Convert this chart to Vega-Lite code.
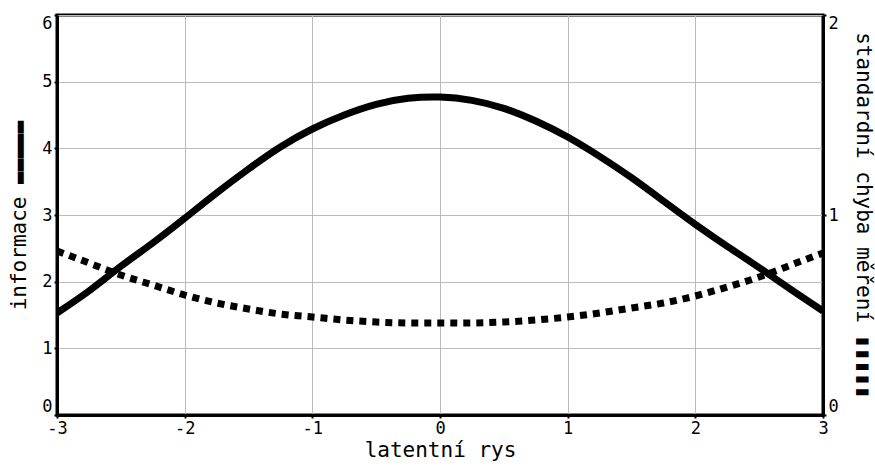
{
  "$schema": "https://vega.github.io/schema/vega-lite/v6.json",
  "autosize": "none",
  "padding": {"left": 57, "top": 15, "right": 52, "bottom": 54},
  "width": 766,
  "height": 400,
  "config": {
    "font": "DejaVu Sans Mono",
    "view": {"stroke": "black", "strokeWidth": 3},
    "axis": {
      "labelFont": "DejaVu Sans Mono",
      "titleFont": "DejaVu Sans Mono",
      "labelFontSize": 17,
      "titleFontSize": 21,
      "titleFontWeight": "normal",
      "labelColor": "black",
      "titleColor": "black",
      "domainColor": "black",
      "domainWidth": 3,
      "tickColor": "black",
      "tickWidth": 2,
      "tickSize": 3,
      "labelPadding": 2,
      "gridColor": "#bbbbbb",
      "gridWidth": 1,
      "labelExpr": "datum.value < 0 ? '-' + abs(datum.value) : '' + datum.value"
    }
  },
  "data": {
    "values": [
      {"theta": -3, "info": 1.53, "se": 0.82},
      {"theta": -2.75, "info": 1.86, "se": 0.76},
      {"theta": -2.5, "info": 2.23, "se": 0.7},
      {"theta": -2.25, "info": 2.58, "se": 0.65},
      {"theta": -2, "info": 2.95, "se": 0.6},
      {"theta": -1.75, "info": 3.33, "se": 0.56},
      {"theta": -1.5, "info": 3.69, "se": 0.53},
      {"theta": -1.25, "info": 4.02, "se": 0.505},
      {"theta": -1, "info": 4.29, "se": 0.49},
      {"theta": -0.75, "info": 4.5, "se": 0.475},
      {"theta": -0.5, "info": 4.66, "se": 0.465},
      {"theta": -0.25, "info": 4.75, "se": 0.46},
      {"theta": 0, "info": 4.77, "se": 0.46},
      {"theta": 0.25, "info": 4.72, "se": 0.46},
      {"theta": 0.5, "info": 4.6, "se": 0.465},
      {"theta": 0.75, "info": 4.41, "se": 0.475},
      {"theta": 1, "info": 4.17, "se": 0.49},
      {"theta": 1.25, "info": 3.88, "se": 0.51},
      {"theta": 1.5, "info": 3.56, "se": 0.535},
      {"theta": 1.75, "info": 3.21, "se": 0.56},
      {"theta": 2, "info": 2.86, "se": 0.595},
      {"theta": 2.25, "info": 2.53, "se": 0.64},
      {"theta": 2.5, "info": 2.21, "se": 0.69},
      {"theta": 2.75, "info": 1.88, "se": 0.75},
      {"theta": 3, "info": 1.56, "se": 0.81}
    ]
  },
  "layer": [
    {
      "mark": {"type": "line", "color": "black", "strokeWidth": 7, "interpolate": "natural", "clip": true},
      "encoding": {
        "x": {
          "field": "theta", "type": "quantitative",
          "scale": {"domain": [-3, 3], "nice": false},
          "axis": {"title": "latentní rys", "values": [-3, -2, -1, 0, 1, 2, 3], "grid": true, "labelFlush": false, "titlePadding": 3}
        },
        "y": {
          "field": "info", "type": "quantitative",
          "scale": {"domain": [0, 6], "nice": false},
          "axis": {"orient": "left", "title": "informace ▬▬▬▬▬", "values": [0, 1, 2, 3, 4, 5, 6], "grid": true, "labelFlush": true, "titlePadding": 12}
        }
      }
    },
    {
      "mark": {"type": "line", "color": "black", "strokeWidth": 7, "strokeDash": [7, 6], "interpolate": "natural", "clip": true},
      "encoding": {
        "x": {"field": "theta", "type": "quantitative"},
        "y": {
          "field": "se", "type": "quantitative",
          "scale": {"domain": [0, 2], "nice": false},
          "axis": {"orient": "right", "title": "standardní chyba měření ▮▮▮▮▮", "values": [0, 1, 2], "grid": false, "labelFlush": true, "titlePadding": 14}
        }
      }
    }
  ],
  "resolve": {"scale": {"y": "independent"}}
}
